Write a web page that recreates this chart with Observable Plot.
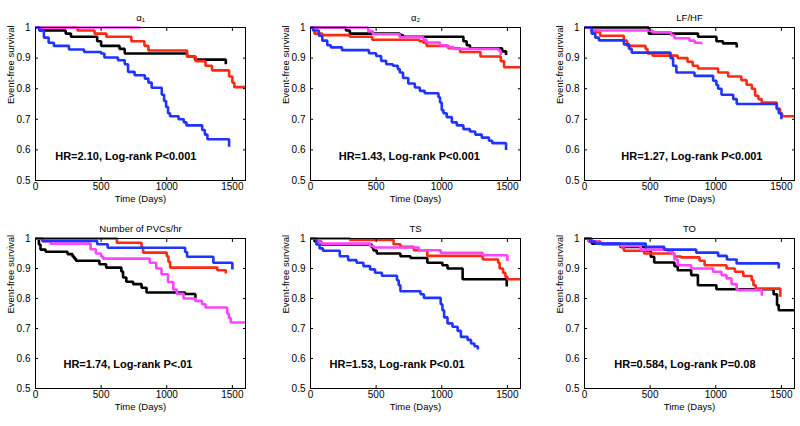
<!DOCTYPE html>
<html><head><meta charset="utf-8">
<script src="https://cdn.jsdelivr.net/npm/d3@7"></script>
<script src="https://cdn.jsdelivr.net/npm/@observablehq/plot@0.6"></script>
<style>
body{margin:0;background:#fff}
#wrap{position:relative;width:800px;height:426px;overflow:hidden;background:#fff;font-family:"Liberation Sans",Arial,sans-serif}
.panel{position:absolute}
</style></head><body><div id="wrap"></div>
<script>
// ---- tick labels / text ----
const xTicks = [0, 500, 1000, 1500];
const yTicks = [0.5, 0.6, 0.7, 0.8, 0.9, 1];
const titles = ["α₁", "α₂", "LF/HF", "Number of PVCs/hr", "TS", "TO"];
const hrLabels = [
  "HR=2.10, Log-rank P<0.001",
  "HR=1.43, Log-rank P<0.001",
  "HR=1.27, Log-rank P<0.001",
  "HR=1.74, Log-rank P<.01",
  "HR=1.53, Log-rank P<0.01",
  "HR=0.584, Log-rank P=0.08"
];
const groups = ["black", "red", "magenta", "blue"];

// ---- survival curves: [day, event-free survival] ----
const a1_black = [[0,1],[30,0.99],[230,0.98],[270,0.97],[470,0.955],[500,0.94],[640,0.93],[680,0.915],[1155,0.905],[1215,0.895],[1450,0.88]];
const a1_red = [[0,1],[320,0.99],[450,0.98],[540,0.97],[730,0.955],[830,0.94],[860,0.925],[1155,0.905],[1220,0.89],[1295,0.875],[1345,0.86],[1475,0.84],[1500,0.82],[1515,0.805],[1600,0.805]];
const a1_magenta = [[0,1],[800,1]];
const a1_blue = [[0,1],[30,0.99],[64,0.967],[100,0.95],[140,0.94],[255,0.928],[370,0.92],[500,0.915],[525,0.902],[628,0.893],[680,0.88],[705,0.855],[755,0.844],[833,0.833],[860,0.82],[885,0.803],[962,0.78],[980,0.76],[995,0.74],[1010,0.72],[1025,0.71],[1090,0.7],[1130,0.69],[1150,0.68],[1270,0.665],[1290,0.65],[1310,0.635],[1475,0.61]];

const a2_black = [[0,1],[270,0.99],[300,0.98],[680,0.975],[705,0.97],[1165,0.955],[1190,0.942],[1215,0.932],[1460,0.922],[1490,0.91]];
const a2_red = [[0,1],[20,0.99],[30,0.98],[90,0.975],[300,0.97],[470,0.96],[830,0.955],[860,0.95],[885,0.94],[1050,0.932],[1140,0.92],[1295,0.905],[1450,0.89],[1475,0.87],[1600,0.87]];
const a2_magenta = [[0,1],[440,0.988],[475,0.978],[680,0.968],[860,0.96],[885,0.951],[987,0.942],[1040,0.936],[1090,0.93],[1435,0.924],[1450,0.91]];
const a2_blue = [[0,1],[20,0.99],[64,0.973],[90,0.957],[128,0.942],[155,0.935],[240,0.926],[445,0.916],[500,0.907],[538,0.891],[577,0.88],[628,0.875],[665,0.864],[680,0.853],[705,0.835],[745,0.817],[795,0.804],[833,0.793],[870,0.785],[975,0.772],[987,0.755],[1000,0.73],[1013,0.72],[1038,0.707],[1077,0.69],[1115,0.68],[1165,0.668],[1215,0.66],[1255,0.65],[1305,0.64],[1360,0.63],[1385,0.622],[1490,0.6]];

const a3_black = [[0,1],[490,0.98],[865,0.97],[1005,0.955],[1055,0.948],[1160,0.935]];
const a3_red = [[0,1],[55,0.985],[120,0.973],[300,0.957],[325,0.94],[465,0.93],[480,0.915],[520,0.908],[710,0.9],[785,0.888],[825,0.875],[865,0.866],[1018,0.853],[1095,0.84],[1195,0.828],[1235,0.813],[1275,0.8],[1300,0.777],[1325,0.766],[1350,0.755],[1465,0.734],[1490,0.72],[1505,0.71],[1600,0.71]];
const a3_magenta = [[0,1],[50,0.992],[95,0.99],[520,0.984],[660,0.975],[685,0.965],[800,0.957],[840,0.95],[890,0.945]];
const a3_blue = [[0,1],[55,0.98],[82,0.967],[110,0.958],[300,0.945],[340,0.93],[360,0.918],[655,0.9],[675,0.875],[700,0.853],[838,0.842],[980,0.826],[1005,0.812],[1018,0.8],[1044,0.78],[1133,0.766],[1160,0.75],[1465,0.735],[1480,0.72],[1500,0.7]];

const a4_black = [[0,1],[26,0.98],[38,0.963],[77,0.956],[244,0.948],[282,0.94],[295,0.933],[308,0.926],[487,0.914],[538,0.903],[654,0.89],[667,0.87],[692,0.856],[744,0.848],[808,0.836],[846,0.82],[1140,0.815],[1218,0.8]];
const a4_red = [[0,1],[620,0.986],[808,0.97],[820,0.953],[1000,0.941],[1013,0.922],[1026,0.903],[1385,0.894],[1450,0.883]];
const a4_magenta = [[0,1],[50,0.99],[115,0.983],[420,0.964],[460,0.95],[500,0.94],[515,0.933],[870,0.919],[920,0.9],[960,0.881],[1010,0.855],[1050,0.83],[1077,0.816],[1128,0.8],[1218,0.792],[1269,0.781],[1295,0.77],[1460,0.75],[1474,0.735],[1487,0.72],[1600,0.72]];
const a4_blue = [[0,1],[55,0.992],[470,0.981],[550,0.969],[1140,0.955],[1155,0.939],[1355,0.919],[1500,0.897]];

const a5_black = [[0,1],[31,0.99],[82,0.98],[467,0.97],[480,0.96],[505,0.95],[685,0.941],[762,0.935],[890,0.919],[1005,0.911],[1044,0.9],[1159,0.864],[1495,0.84]];
const a5_red = [[0,1],[300,0.995],[633,0.981],[685,0.972],[787,0.961],[890,0.942],[1313,0.93],[1430,0.919],[1441,0.9],[1467,0.886],[1485,0.872],[1500,0.864],[1600,0.864]];
const a5_magenta = [[0,1],[44,0.992],[56,0.99],[82,0.983],[454,0.975],[480,0.97],[826,0.961],[992,0.952],[1313,0.944],[1500,0.925]];
const a5_blue = [[0,1],[44,0.98],[69,0.967],[95,0.959],[223,0.941],[287,0.928],[351,0.919],[403,0.908],[454,0.897],[492,0.886],[544,0.876],[659,0.861],[672,0.844],[685,0.824],[838,0.814],[864,0.802],[992,0.781],[1005,0.761],[1018,0.737],[1044,0.717],[1082,0.706],[1121,0.692],[1146,0.672],[1197,0.662],[1223,0.65],[1249,0.641],[1275,0.63]];

const a6_black = [[0,1],[31,0.99],[56,0.983],[274,0.972],[467,0.96],[505,0.939],[531,0.92],[685,0.908],[710,0.894],[813,0.878],[864,0.844],[1005,0.831],[1441,0.814],[1467,0.778],[1480,0.761],[1600,0.761]];
const a6_red = [[0,1],[56,0.99],[120,0.985],[133,0.98],[287,0.97],[300,0.959],[454,0.95],[685,0.94],[736,0.937],[877,0.926],[915,0.911],[1082,0.9],[1146,0.889],[1210,0.875],[1274,0.861],[1287,0.844],[1305,0.833],[1492,0.806]];
const a6_magenta = [[0,1],[31,0.99],[95,0.983],[274,0.975],[428,0.963],[633,0.957],[672,0.95],[685,0.93],[710,0.911],[813,0.9],[980,0.889],[1044,0.878],[1082,0.867],[1120,0.848],[1159,0.831],[1172,0.828],[1351,0.809]];
const a6_blue = [[0,1],[44,0.99],[82,0.983],[467,0.972],[608,0.963],[851,0.953],[1018,0.942],[1085,0.93],[1159,0.917],[1480,0.9]];

const curves = [
  {black: a1_black, red: a1_red, magenta: a1_magenta, blue: a1_blue},
  {black: a2_black, red: a2_red, magenta: a2_magenta, blue: a2_blue},
  {black: a3_black, red: a3_red, magenta: a3_magenta, blue: a3_blue},
  {black: a4_black, red: a4_red, magenta: a4_magenta, blue: a4_blue},
  {black: a5_black, red: a5_red, magenta: a5_magenta, blue: a5_blue},
  {black: a6_black, red: a6_red, magenta: a6_magenta, blue: a6_blue}
];

// ---- styling / layout ----
const colors = {black: "#000000", red: "#ff2a14", magenta: "#ff44ff", blue: "#1f35ff"};
const hrX = [150, 215, 280, 213, 145, 227];
const colLeft = [0, 274.5, 549];
const rows = [
  {top: 0, height: 210, mt: 27, mb: 30, titleDy: -13.5},
  {top: 210, height: 216, mt: 28, mb: 38, titleDy: -13}
];
const font = '"Liberation Sans", Arial, sans-serif';
const wrap = document.getElementById("wrap");

titles.forEach((title, i) => {
  const row = rows[Math.floor(i / 3)];
  const col = i % 3;
  const lines = groups.map(g => Plot.line(curves[i][g], {
    x: d => d[0], y: d => d[1], curve: "step-after",
    stroke: colors[g], strokeWidth: 2.6, strokeLinejoin: "miter", strokeLinecap: "butt"
  }));
  const chart = Plot.plot({
    width: 250, height: row.height,
    marginLeft: 35, marginRight: 5, marginTop: row.mt, marginBottom: row.mb,
    style: {fontFamily: font, fontSize: "10px", color: "#000", background: "transparent", overflow: "visible"},
    x: {domain: [0, 1600]},
    y: {domain: [0.5, 1]},
    marks: [
      ...lines,
      Plot.frame({stroke: "#000", strokeWidth: 1}),
      Plot.axisX({anchor: "bottom", ticks: xTicks, tickSize: -3, tickPadding: 5, fontSize: 10, label: null, tickFormat: d => String(d)}),
      Plot.axisX({anchor: "top", ticks: xTicks, tickSize: -3, label: null, tickFormat: () => ""}),
      Plot.axisY({anchor: "left", ticks: yTicks, tickSize: -3, tickPadding: 8, fontSize: 10, label: null, tickFormat: d => String(+d.toFixed(1))}),
      Plot.axisY({anchor: "right", ticks: yTicks, tickSize: -3, label: null, tickFormat: () => ""}),
      Plot.text([title], {frameAnchor: "top", dy: row.titleDy, text: d => d, fontSize: 9.5}),
      Plot.text(["Time (Days)"], {frameAnchor: "bottom", dy: 21.5, text: d => d, fontSize: 9.5}),
      Plot.text(["Event-free survival"], {frameAnchor: "left", dx: -25, rotate: -90, text: d => d, fontSize: 9.5}),
      Plot.text([{x: hrX[i], y: 0.58, label: hrLabels[i]}], {x: "x", y: "y", text: "label", textAnchor: "start", fontWeight: "bold", fontSize: 11})
    ]
  });
  chart.classList.add("panel");
  chart.style.left = colLeft[col] + "px";
  chart.style.top = row.top + "px";
  wrap.appendChild(chart);
});
</script></body></html>
